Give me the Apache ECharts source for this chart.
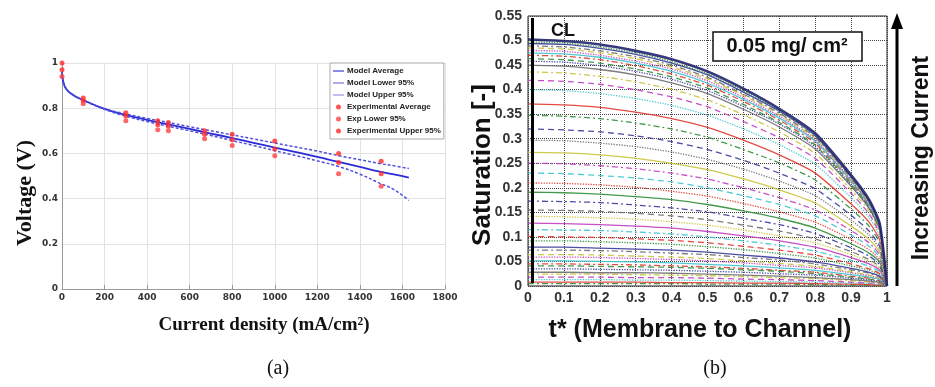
<!DOCTYPE html>
<html><head><meta charset="utf-8">
<script src="https://cdn.jsdelivr.net/npm/echarts@6/dist/echarts.min.js"></script>
<style>html,body{margin:0;padding:0;background:#fff}#c{width:935px;height:387px}</style>
</head><body><div id="c"></div>
<script>
// ---------- Panel (a) data ----------
var modelX     = [0, 5, 20, 50, 100, 200, 300, 400, 500, 600, 700, 800, 900, 1000, 1100, 1200, 1300, 1400, 1500, 1560, 1630];
var modelAvg   = [0.96, 0.92, 0.885, 0.86, 0.836, 0.797, 0.77, 0.748, 0.728, 0.708, 0.688, 0.668, 0.647, 0.626, 0.606, 0.585, 0.562, 0.54, 0.518, 0.507, 0.493];
var modelUpper = [0.96, 0.92, 0.885, 0.86, 0.836, 0.798, 0.775, 0.755, 0.737, 0.718, 0.70, 0.682, 0.664, 0.646, 0.628, 0.61, 0.59, 0.572, 0.554, 0.545, 0.533];
var modelLower = [0.96, 0.92, 0.885, 0.86, 0.836, 0.795, 0.765, 0.741, 0.72, 0.70, 0.679, 0.657, 0.635, 0.612, 0.59, 0.567, 0.542, 0.508, 0.465, 0.44, 0.392];
var expX     = [0, 100, 300, 450, 500, 670, 800, 1000, 1300, 1500];
var expAvg   = [0.97, 0.833, 0.765, 0.727, 0.72, 0.685, 0.66, 0.62, 0.56, 0.51];
var expLower = [0.94, 0.82, 0.745, 0.705, 0.70, 0.665, 0.635, 0.59, 0.51, 0.455];
var expUpper = [1.0, 0.845, 0.78, 0.745, 0.737, 0.70, 0.685, 0.655, 0.60, 0.565];
var xTicksA = [0, 200, 400, 600, 800, 1000, 1200, 1400, 1600, 1800];
var yTicksA = [0, 0.2, 0.4, 0.6, 0.8, 1];

// ---------- Panel (b) data ----------
var tVals = [0, 0.1, 0.2, 0.3, 0.4, 0.5, 0.6, 0.7, 0.8, 0.9, 0.95, 0.98, 1];
var satCurves = [
 [.502,.499,.492,.479,.462,.437,.402,.361,.311,.226,.176,.126,0],
 [.497,.495,.487,.475,.457,.432,.398,.358,.308,.224,.174,.124,0],
 [.494,.492,.484,.472,.454,.430,.395,.356,.306,.222,.173,.124,0],
 [.489,.487,.479,.467,.450,.425,.391,.352,.303,.220,.171,.122,0],
 [.485,.483,.475,.463,.446,.422,.388,.349,.301,.218,.170,.121,0],
 [.480,.478,.470,.458,.442,.418,.384,.346,.298,.216,.168,.120,0],
 [.475,.473,.466,.454,.437,.413,.380,.342,.295,.214,.166,.119,0],
 [.470,.468,.461,.449,.432,.409,.376,.338,.291,.212,.165,.118,0],
 [.463,.461,.454,.442,.426,.403,.370,.333,.287,.208,.162,.116,0],
 [.458,.456,.449,.437,.421,.398,.366,.330,.284,.206,.160,.115,0],
 [.450,.448,.441,.430,.414,.392,.360,.324,.279,.203,.158,.113,0],
 [.436,.434,.427,.416,.401,.379,.349,.314,.270,.196,.153,.109,0],
 [.419,.417,.411,.400,.385,.365,.335,.302,.260,.189,.147,.105,0],
 [.400,.398,.392,.382,.368,.348,.320,.288,.248,.180,.140,.100,0],
 [.371,.369,.364,.354,.341,.323,.297,.267,.230,.167,.130,.093,0],
 [.348,.346,.341,.332,.320,.303,.278,.251,.216,.157,.122,.087,0],
 [.320,.318,.314,.306,.294,.278,.256,.230,.198,.144,.112,.080,0],
 [.297,.296,.291,.284,.273,.258,.238,.214,.184,.134,.104,.074,0],
 [.272,.271,.267,.260,.250,.237,.218,.196,.169,.122,.095,.068,0],
 [.250,.249,.245,.239,.230,.218,.200,.180,.155,.113,.088,.063,0],
 [.230,.229,.225,.220,.212,.200,.184,.166,.143,.104,.081,.058,0],
 [.210,.209,.206,.201,.193,.183,.168,.151,.130,.095,.074,.053,0],
 [.191,.190,.187,.182,.176,.166,.153,.138,.118,.086,.067,.048,0],
 [.173,.172,.170,.165,.159,.151,.138,.125,.107,.078,.061,.043,0],
 [.155,.154,.152,.148,.143,.135,.124,.112,.096,.070,.054,.039,0],
 [.142,.141,.139,.136,.131,.124,.114,.102,.088,.064,.050,.036,0],
 [.128,.127,.125,.122,.118,.111,.102,.092,.079,.058,.045,.032,0],
 [.115,.114,.113,.110,.106,.100,.092,.083,.071,.052,.040,.029,0],
 [.101,.100,.099,.096,.093,.088,.081,.073,.063,.045,.035,.025,0],
 [.092,.092,.090,.088,.085,.080,.074,.066,.057,.041,.032,.023,0],
 [.079,.079,.077,.075,.073,.069,.063,.057,.049,.036,.028,.020,0],
 [.073,.073,.072,.070,.067,.064,.058,.053,.045,.033,.026,.018,0],
 [.064,.064,.063,.061,.059,.056,.051,.046,.040,.029,.022,.016,0],
 [.059,.059,.058,.056,.054,.051,.047,.042,.037,.027,.021,.015,0],
 [.051,.051,.050,.049,.047,.044,.041,.037,.032,.023,.018,.013,0],
 [.045,.045,.044,.043,.041,.039,.036,.032,.028,.020,.016,.011,0],
 [.041,.041,.040,.039,.038,.036,.033,.030,.025,.018,.014,.010,0],
 [.035,.035,.034,.033,.032,.030,.028,.025,.022,.016,.012,.009,0],
 [.028,.028,.027,.027,.026,.024,.022,.020,.017,.013,.010,.007,0],
 [.024,.024,.024,.023,.022,.021,.019,.017,.015,.011,.008,.006,0],
 [.018,.018,.018,.017,.017,.016,.014,.013,.011,.008,.006,.005,0],
 [.013,.013,.013,.012,.012,.011,.010,.009,.008,.006,.005,.003,0],
 [.008,.008,.008,.008,.007,.007,.006,.006,.005,.004,.003,.002,0],
 [.005,.005,.005,.005,.005,.004,.004,.004,.003,.002,.002,.001,0]
];

// ---------- styles ----------
var cycColors = ['#6e6e6e', '#c9c43a', '#c03cbf', '#3cc4cf', '#e0382e', '#2f8f3a', '#3a3a9a'];
var cycTypes = ['solid', [6, 3, 2, 3], [6, 4], 'dotted'];

function pairs(xs, ys) { return xs.map(function (x, i) { return [x, ys[i]]; }); }

var series = [
  { name: 'Model Average', type: 'line', xAxisIndex: 0, yAxisIndex: 0, data: pairs(modelX, modelAvg), showSymbol: false, smooth: true, lineStyle: { color: '#2b2bd8', width: 1.8 }, itemStyle: { color: '#2b2bd8' }, z: 3 },
  { name: 'Model Lower 95%', type: 'line', xAxisIndex: 0, yAxisIndex: 0, data: pairs(modelX, modelLower), showSymbol: false, smooth: true, lineStyle: { color: '#5050dd', width: 1.5, type: [3, 2] }, itemStyle: { color: '#6a6ae0' }, z: 3 },
  { name: 'Model Upper 95%', type: 'line', xAxisIndex: 0, yAxisIndex: 0, data: pairs(modelX, modelUpper), showSymbol: false, smooth: true, lineStyle: { color: '#5050dd', width: 1.5, type: [3, 2] }, itemStyle: { color: '#8a8ae8' }, z: 3 },
  { name: 'Experimental Average', type: 'scatter', xAxisIndex: 0, yAxisIndex: 0, data: pairs(expX, expAvg), symbolSize: 5, itemStyle: { color: '#ff2a2a' }, z: 4 },
  { name: 'Exp Lower 95%', type: 'scatter', xAxisIndex: 0, yAxisIndex: 0, data: pairs(expX, expLower), symbolSize: 5, itemStyle: { color: '#ff4040' }, z: 4 },
  { name: 'Experimental Upper 95%', type: 'scatter', xAxisIndex: 0, yAxisIndex: 0, data: pairs(expX, expUpper), symbolSize: 5, itemStyle: { color: '#ff2a2a' }, z: 4 }
];

satCurves.forEach(function (c, i) {
  var k = ((i - 10) % 28 + 28) % 28;
  var col = cycColors[k % 7], typ = cycTypes[k % 4], w = 1.3;
  if (i === 0) { col = '#232370'; typ = 'solid'; w = 2.6; }
  series.push({
    type: 'line', xAxisIndex: 1, yAxisIndex: 1, data: pairs(tVals, c),
    showSymbol: false, smooth: 0.2, silent: true,
    lineStyle: { color: col, width: w, type: typ, opacity: 0.9 }, z: 2 + (44 - i) / 100
  });
});
// draw top envelope last
series.push(series.splice(6, 1)[0]);

var fmt2 = function (v) { return String(Math.round(v * 100) / 100); };

var option = {
  animation: false,
  backgroundColor: '#fff',
  grid: [
    { left: 62, top: 63, width: 383, height: 226, show: false },
    { left: 528, top: 16, width: 359, height: 270, show: true, borderColor: '#222', borderWidth: 1, backgroundColor: 'transparent' }
  ],
  legend: {
    left: 330, top: 63, orient: 'vertical', itemGap: 4, itemWidth: 11, itemHeight: 5,
    padding: [4, 3, 4, 3], backgroundColor: '#fff', borderColor: '#aaa', borderWidth: 1,
    textStyle: { fontSize: 8, fontWeight: 'bold', color: '#222', fontFamily: 'Liberation Sans', padding: [0, 0, 0, -2] },
    data: [
      { name: 'Model Average', icon: 'path://M0,5L10,5L10,6L0,6Z' },
      { name: 'Model Lower 95%', icon: 'path://M0,5L10,5L10,6L0,6Z' },
      { name: 'Model Upper 95%', icon: 'path://M0,5L10,5L10,6L0,6Z' },
      { name: 'Experimental Average', icon: 'circle' },
      { name: 'Exp Lower 95%', icon: 'circle' },
      { name: 'Experimental Upper 95%', icon: 'circle' }
    ]
  },
  xAxis: [
    { gridIndex: 0, type: 'value', min: 0, max: 1800, interval: 200,
      axisLine: { lineStyle: { color: '#999' } }, axisTick: { inside: true, length: 4, lineStyle: { color: '#999' } },
      axisLabel: { fontSize: 9, fontWeight: 'bold', color: '#333', fontFamily: 'DejaVu Sans', margin: 4,
        formatter: function (v) { return xTicksA.indexOf(v) >= 0 ? String(v) : ''; } },
      splitLine: { lineStyle: { color: '#e2e2e2' } } },
    { gridIndex: 1, type: 'value', min: 0, max: 1, interval: 0.1,
      axisLine: { show: false }, axisTick: { show: false },
      axisLabel: { fontSize: 14, fontWeight: 'bold', color: '#333', fontFamily: 'Liberation Sans', margin: 5, formatter: fmt2 },
      splitLine: { lineStyle: { color: '#444', type: 'dotted', width: 1 } } }
  ],
  yAxis: [
    { gridIndex: 0, type: 'value', min: 0, max: 1, interval: 0.2,
      axisLine: { show: true, lineStyle: { color: '#999' } }, axisTick: { show: false },
      axisLabel: { fontSize: 9, fontWeight: 'bold', color: '#333', fontFamily: 'DejaVu Sans', margin: 4,
        formatter: function (v) { var r = Math.round(v * 10) / 10; return yTicksA.indexOf(r) >= 0 ? String(r) : ''; } },
      splitLine: { lineStyle: { color: '#e2e2e2' } } },
    { gridIndex: 1, type: 'value', min: 0, max: 0.55, interval: 0.05,
      axisLine: { show: false }, axisTick: { show: false },
      axisLabel: { fontSize: 14, fontWeight: 'bold', color: '#333', fontFamily: 'Liberation Sans', margin: 6, formatter: fmt2 },
      splitLine: { lineStyle: { color: '#444', type: 'dotted', width: 1 } } }
  ],
  series: series,
  graphic: [
    { type: 'text', x: 25, y: 193, rotation: Math.PI / 2, z: 50,
      style: { text: 'Voltage (V)', font: 'bold 22px "Liberation Serif"', fill: '#111', textAlign: 'center', textVerticalAlign: 'middle' } },
    { type: 'text', x: 264, y: 325, z: 50,
      style: { text: 'Current density (mA/cm²)', font: 'bold 19px "Liberation Serif"', fill: '#111', textAlign: 'center', textVerticalAlign: 'middle' } },
    { type: 'text', x: 278, y: 369, z: 50,
      style: { text: '(a)', font: '20px "Liberation Serif"', fill: '#111', textAlign: 'center', textVerticalAlign: 'middle' } },
    { type: 'text', x: 483, y: 165, rotation: Math.PI / 2, z: 50,
      style: { text: 'Saturation [-]', font: 'bold 26px "Liberation Sans"', fill: '#111', textAlign: 'center', textVerticalAlign: 'middle' } },
    { type: 'text', x: 700, y: 330, z: 50,
      style: { text: 't* (Membrane to Channel)', font: 'bold 25px "Liberation Sans"', fill: '#111', textAlign: 'center', textVerticalAlign: 'middle' } },
    { type: 'text', x: 715, y: 369, z: 50,
      style: { text: '(b)', font: '20px "Liberation Serif"', fill: '#111', textAlign: 'center', textVerticalAlign: 'middle' } },
    { type: 'text', x: 922, y: 158, rotation: Math.PI / 2, z: 50,
      style: { text: 'Increasing Current', font: 'bold 23px "Liberation Sans"', fill: '#111', textAlign: 'center', textVerticalAlign: 'middle' } },
    { type: 'line', z: 50, shape: { x1: 897, y1: 286, x2: 897, y2: 26 }, style: { stroke: '#000', lineWidth: 3 } },
    { type: 'polygon', z: 50, shape: { points: [[891, 29], [903, 29], [897, 13]] }, style: { fill: '#000' } },
    { type: 'line', z: 50, shape: { x1: 532.5, y1: 18, x2: 532.5, y2: 283 }, style: { stroke: '#000', lineWidth: 3 } },
    { type: 'text', x: 563, y: 31, z: 50,
      style: { text: 'CL', font: 'bold 18px "Liberation Sans"', fill: '#111', textAlign: 'center', textVerticalAlign: 'middle' } },
    { type: 'rect', z: 50, shape: { x: 713, y: 32, width: 149, height: 29 }, style: { fill: '#fff', stroke: '#111', lineWidth: 1.5 } },
    { type: 'text', x: 787, y: 46.5, z: 51,
      style: { text: '0.05 mg/ cm²', font: 'bold 20px "Liberation Sans"', fill: '#111', textAlign: 'center', textVerticalAlign: 'middle' } }
  ]
};

var chart = echarts.init(document.getElementById('c'), null, { renderer: 'canvas' });
chart.setOption(option);
</script>
</body></html>
